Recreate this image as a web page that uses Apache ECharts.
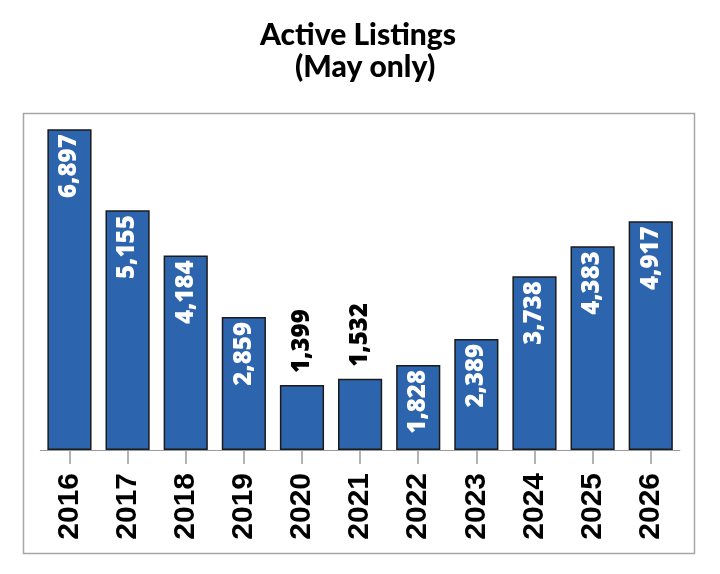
<!DOCTYPE html>
<html><head><meta charset="utf-8">
<script src="https://cdn.jsdelivr.net/npm/echarts@6/dist/echarts.min.js"></script>
<style>html,body{margin:0;padding:0;background:#fff}#c{width:720px;height:574px}</style>
</head><body><div id="c"></div>
<script>
const categories = ['2016','2017','2018','2019','2020','2021','2022','2023','2024','2025','2026'];
const listings = [6897, 5155, 4184, 2859, 1399, 1532, 1828, 2389, 3738, 4383, 4917];
const outsideThreshold = 1700;

const fmt = v => v.toLocaleString('en-US');
const data = listings.map(v => v < outsideThreshold ? {
  value: v,
  label: { position: 'top', align: 'left', color: '#000', distance: 12 }
} : v);

const chart = echarts.init(document.getElementById('c'));
chart.setOption({
  animation: false,
  title: {
    text: 'Active Listings\n  (May only)',
    left: 353, textAlign: 'center', top: 14,
    textStyle: { fontFamily: 'Lato', fontWeight: 900, fontSize: 30, lineHeight: 32, color: '#000' }
  },
  graphic: [{
    type: 'rect', shape: { x: 23.5, y: 113.5, width: 671, height: 440 },
    style: { fill: 'none', stroke: '#a6a6a6', lineWidth: 1.5 }, z: -1
  }],
  grid: { left: 40.4, right: 40.2, top: 129.3, bottom: 124 },
  xAxis: {
    type: 'category', data: categories,
    axisLine: { lineStyle: { color: '#9a9a9a', width: 1.2 } },
    axisTick: { show: true, length: 14, alignWithLabel: true, lineStyle: { color: '#9a9a9a', width: 1.5 } },
    axisLabel: { rotate: 90, margin: 23, fontFamily: 'Liberation Sans', fontWeight: 'bold', fontSize: 30, color: '#000' }
  },
  yAxis: {
    type: 'value', min: 0, max: v => v.max, show: false, splitLine: { show: false }
  },
  series: [{
    type: 'bar', data: data, barWidth: '76%',
    itemStyle: { color: '#2c64ad', borderColor: '#1b1b1b', borderWidth: 1.5 },
    label: {
      show: true, position: 'insideTop', rotate: 90, align: 'right', verticalAlign: 'middle',
      distance: 5, formatter: p => fmt(p.value),
      fontFamily: 'Open Sans', fontWeight: 800, fontSize: 24, color: '#fff'
    }
  }]
});
</script></body></html>
